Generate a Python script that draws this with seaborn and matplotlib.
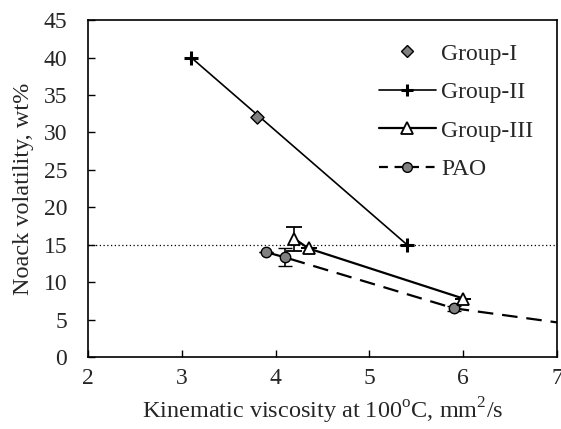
import matplotlib
matplotlib.use("Agg")
import matplotlib.pyplot as plt
import seaborn as sns
import pandas as pd
from matplotlib.lines import Line2D

# Data
g1_x = [3.8]
g1_y = [32.0]
g2_x = [3.1, 5.4]
g2_y = [40.0, 15.0]
g3_x = [4.2, 4.35, 6.0]
g3_y = [15.8, 14.5, 7.8]
g3_err = [1.6, 0.0, 0.0]
pao_x = [3.9, 4.1, 5.9, 8.0]
pao_y = [14.0, 13.3, 6.5, 2.9]
pao_err = [0.0, 1.2, 0.3, 0.0]
ref_level = 15.0

sns.set_style("white")
plt.rcParams['font.family'] = ['Liberation Serif', 'DejaVu Serif']
plt.rcParams['mathtext.fontset'] = 'custom'
plt.rcParams['mathtext.rm'] = 'Liberation Serif'

FS = 17
LFS = 17.5

fig = plt.figure(figsize=(5.61, 4.29), dpi=100)
ax = fig.add_axes([0.157, 0.168, 0.836, 0.785])

ax.axhline(ref_level, color='black', lw=0.9, ls=(0, (1, 2)), zorder=1)

df2 = pd.DataFrame({'x': g2_x, 'y': g2_y})
df3 = pd.DataFrame({'x': g3_x, 'y': g3_y})
dfp = pd.DataFrame({'x': pao_x, 'y': pao_y})

sns.lineplot(data=df2, x='x', y='y', ax=ax, color='black', lw=1.2,
             sort=False, legend=False, zorder=2)
ax.plot(g2_x, g2_y, ls='none', marker='+', ms=9.5, mew=2.2, color='black', zorder=4)

sns.lineplot(data=dfp, x='x', y='y', ax=ax, color='black', lw=1.6, sort=False,
             legend=False, zorder=2)
ax.lines[-1].set_linestyle((0, (7, 4)))
ax.errorbar(pao_x, pao_y, yerr=pao_err, fmt='o', ms=7.5, mfc='#808080', mec='black',
            mew=1, ecolor='black', elinewidth=1.2, capsize=5, capthick=2.5, zorder=3)

sns.lineplot(data=df3, x='x', y='y', ax=ax, color='black', lw=1.6, sort=False,
             legend=False, zorder=2)
ax.errorbar(g3_x, g3_y, yerr=g3_err, fmt='^', ms=9, mfc='white', mec='black',
            mew=1.3, ecolor='black', elinewidth=1.2, capsize=6, capthick=2.5, zorder=4)

sns.scatterplot(x=g1_x, y=g1_y, ax=ax, marker='D', s=45, color='#808080',
                edgecolor='black', linewidth=1, zorder=5, legend=False)

ax.set_xlim(2, 7)
ax.set_ylim(0, 45)
ax.set_xticks([2, 3, 4, 5, 6, 7])
ax.set_yticks(range(0, 46, 5))
ax.tick_params(direction='in', length=5, width=1, labelsize=FS, color='black',
               left=True, bottom=True, top=False, right=False)
ax.tick_params(axis='x', pad=8)
ax.tick_params(axis='y', pad=15)
for s in ax.spines.values():
    s.set_color('black')
    s.set_linewidth(1.2)

ax.set_xlabel('Kinematic viscosity at 100$^{\\mathrm{o}}$C, mm$^{\\mathrm{2}}$/s', fontsize=LFS, labelpad=5)
ax.set_ylabel('Noack volatility, wt%', fontsize=LFS, labelpad=7)

handles = [
    Line2D([], [], ls='none', marker='D', ms=6.5, mfc='#808080', mec='black'),
    Line2D([], [], color='black', lw=1.2, marker='+', ms=9, mew=2.2),
    Line2D([], [], color='black', lw=1.6, marker='^', ms=8, mfc='white', mec='black', mew=1.3),
    Line2D([], [], color='black', lw=1.6, ls=(0, (4, 3)), marker='o', ms=7, mfc='#808080', mec='black'),
]
labels = ['Group-I', 'Group-II', 'Group-III', 'PAO']
ax.legend(handles, labels, loc='upper left', bbox_to_anchor=(0.6, 0.96), frameon=False,
          fontsize=FS, handlelength=2.4, handletextpad=0.25, labelspacing=0.72,
          borderaxespad=0)

fig.savefig('out.png', dpi=100)
